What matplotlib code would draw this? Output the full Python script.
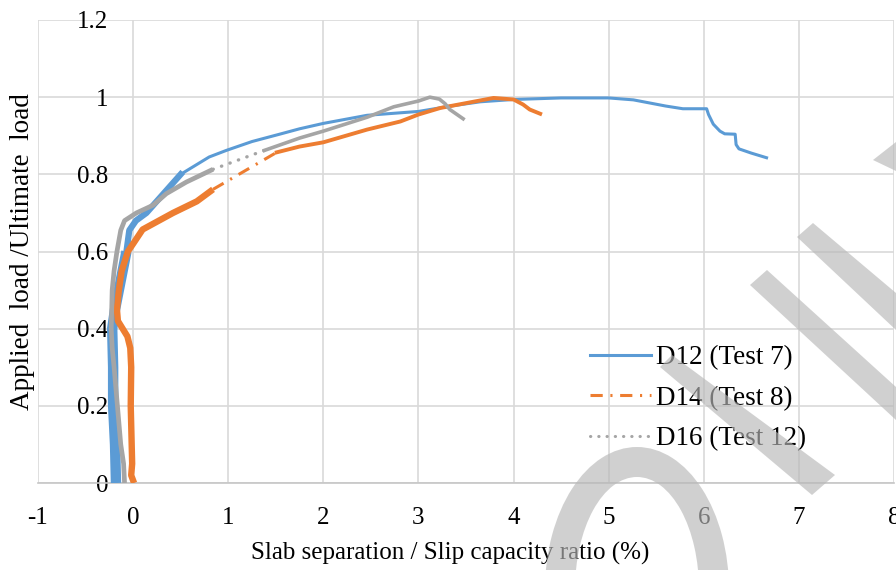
"""Applied load ratio vs slab separation / slip capacity ratio."""
import matplotlib
matplotlib.use("Agg")
import matplotlib.pyplot as plt
from matplotlib.lines import Line2D
from matplotlib.patches import Polygon, Annulus
from matplotlib.transforms import Affine2D

# D12 (Test 7)
d12_x = [-0.18, -0.19, -0.21, -0.21, -0.22, -0.19, -0.15, -0.11, -0.07, -0.04, 0.03,
         0.14, 0.32, 0.50, 0.80, 0.98, 1.25, 1.54, 1.75, 2.00, 2.46, 3.00, 3.34,
         3.65, 4.00, 4.50, 5.00, 5.26, 5.60, 5.78, 6.03, 6.05, 6.10, 6.17, 6.22,
         6.33, 6.34, 6.37, 6.50, 6.66]
d12_y = [0.00, 0.10, 0.20, 0.30, 0.40, 0.45, 0.50, 0.55, 0.60, 0.655, 0.68,
         0.70, 0.75, 0.80, 0.845, 0.862, 0.885, 0.904, 0.918, 0.932, 0.953, 0.963, 0.977,
         0.988, 0.994, 0.998, 0.998, 0.993, 0.977, 0.970, 0.970, 0.955, 0.930, 0.912, 0.905,
         0.904, 0.877, 0.866, 0.855, 0.843]

# D14 (Test 8); the stretch after index 18 is sparse and shows the dash pattern
d14_x = [0.01, -0.02, -0.01, -0.015, -0.025, -0.02, -0.03, -0.06, -0.11, -0.16,
         -0.17, -0.15, -0.12, -0.055, 0.00, 0.10, 0.42, 0.67, 0.84,
         1.51, 1.75, 2.00, 2.46, 2.81, 3.00, 3.23, 3.51, 3.79, 4.00, 4.10, 4.17, 4.28]
d14_y = [0.00, 0.02, 0.05, 0.10, 0.20, 0.30, 0.35, 0.38, 0.40, 0.42,
         0.45, 0.50, 0.55, 0.60, 0.62, 0.657, 0.70, 0.73, 0.761,
         0.857, 0.872, 0.883, 0.916, 0.937, 0.955, 0.972, 0.985, 0.998, 0.994, 0.981, 0.968, 0.957]
d14_gap = 18

# D16 (Test 12); sparse stretch after index 17
d16_x = [-0.09, -0.10, -0.13, -0.165, -0.20, -0.22, -0.23, -0.225, -0.22, -0.20,
         -0.17, -0.13, -0.09, 0.035, 0.21, 0.35, 0.56, 0.84,
         1.38, 1.75, 2.00, 2.46, 2.74, 3.00, 3.12, 3.22, 3.28, 3.33, 3.47]
d16_y = [0.00, 0.05, 0.10, 0.20, 0.30, 0.35, 0.40, 0.45, 0.50, 0.55,
         0.60, 0.655, 0.68, 0.70, 0.72, 0.75, 0.78, 0.813,
         0.862, 0.894, 0.912, 0.948, 0.975, 0.990, 1.000, 0.995, 0.983, 0.968, 0.944]
d16_gap = 17

labels = ["D12 (Test 7)", "D14 (Test 8)", "D16 (Test 12)"]
colors = ["#5B9BD5", "#ED7D31", "#A5A5A5"]
x_ticks = list(range(-1, 9))
y_ticks = [0, 0.2, 0.4, 0.6, 0.8, 1, 1.2]
y_tick_labels = ["0", "0.2", "0.4", "0.6", "0.8", "1", "1.2"]

plt.rcParams["font.family"] = ["Liberation Serif", "DejaVu Serif"]
dashdot = (4, 2.5, 0.7, 2.5)
dotted = (0.1, 2.6)

fig = plt.figure(figsize=(8.96, 5.70), dpi=100)
ax = fig.add_axes([38 / 896, 87 / 570, 856 / 896, 463 / 570])

# D12: scattered readings make the low-load part a wide band
ax.plot(d12_x, d12_y, color=colors[0], lw=2.2, solid_joinstyle="round", zorder=3)
ax.plot(d12_x[:9], d12_y[:9], color=colors[0], lw=7.5, solid_capstyle="butt", zorder=3)
ax.plot(d12_x[8:14], d12_y[8:14], color=colors[0], lw=4.5, zorder=3)

# D14
g = d14_gap
ax.plot(d14_x[:g + 1], d14_y[:g + 1], color=colors[1], lw=4.6, solid_capstyle="butt", zorder=4)
ax.plot(d14_x[g:g + 2], d14_y[g:g + 2], color=colors[1], lw=2.2, dashes=dashdot, zorder=4)
ax.plot(d14_x[g + 1:], d14_y[g + 1:], color=colors[1], lw=2.8, zorder=4)

# D16
g = d16_gap
ax.plot(d16_x[:g + 1], d16_y[:g + 1], color=colors[2], lw=3.4, solid_capstyle="butt", zorder=5)
ax.plot(d16_x[g:g + 2], d16_y[g:g + 2], color=colors[2], lw=2.4, dashes=dotted,
        dash_capstyle="round", zorder=5)
ax.plot(d16_x[g + 1:], d16_y[g + 1:], color=colors[2], lw=2.6, zorder=5)

ax.set_xlim(-1, 8)
ax.set_ylim(0, 1.2)
ax.set_xticks(x_ticks)
ax.set_xticklabels([str(v) for v in x_ticks])
ax.set_yticks(y_ticks)
ax.set_yticklabels(y_tick_labels)
ax.grid(True, color="#D9D9D9", lw=1.2)
ax.set_axisbelow(True)
for sp in ax.spines.values():
    sp.set_visible(False)
ax.spines["left"].set_position(("data", 0))
ax.spines["bottom"].set_visible(True)
ax.spines["bottom"].set_color("#C6C6C6")
ax.spines["bottom"].set_linewidth(1.2)
ax.tick_params(axis="both", length=0, labelsize=18)
ax.tick_params(axis="y", pad=18)
ax.tick_params(axis="x", pad=17)

ax.set_xlabel("Slab separation / Slip capacity ratio (%)", fontsize=18)
ax.xaxis.set_label_coords(0.481, -0.128)
ax.set_ylabel("Applied  load /Ultimate  load", fontsize=19.5)
ax.yaxis.set_label_coords(-0.003, 0.5)

handles = [
    Line2D([], [], color=colors[0], lw=2.2),
    Line2D([], [], color=colors[1], lw=2.2, dashes=dashdot),
    Line2D([], [], color=colors[2], lw=2.2, dashes=dotted, dash_capstyle="round"),
]
fig.legend(handles, labels, loc="upper left", bbox_to_anchor=(590 / 896, 1 - 345 / 570),
           frameon=False, fontsize=19.5, handlelength=2.25, handletextpad=0.2,
           labelspacing=0.58, borderpad=0, borderaxespad=0)

# semi-transparent watermark over the chart
px = Affine2D().scale(1 / 896, -1 / 570).translate(0, 1) + fig.transFigure
wm = dict(facecolor="#B8B8B8", edgecolor="none", alpha=0.65, transform=px, zorder=10)
fig.add_artist(Annulus((637, 590), (92, 143), 30, **wm))
fig.add_artist(Polygon([(873, 160), (896, 142), (896, 171)], closed=True, **wm))
fig.add_artist(Polygon([(797, 237), (813, 223), (896, 293), (896, 330)], closed=True, **wm))
fig.add_artist(Polygon([(750, 285), (767, 270), (896, 387), (896, 420)], closed=True, **wm))
fig.add_artist(Polygon([(660, 367), (672, 355), (835, 475), (812, 495)], closed=True, **wm))

fig.savefig("out.png", dpi=100)
